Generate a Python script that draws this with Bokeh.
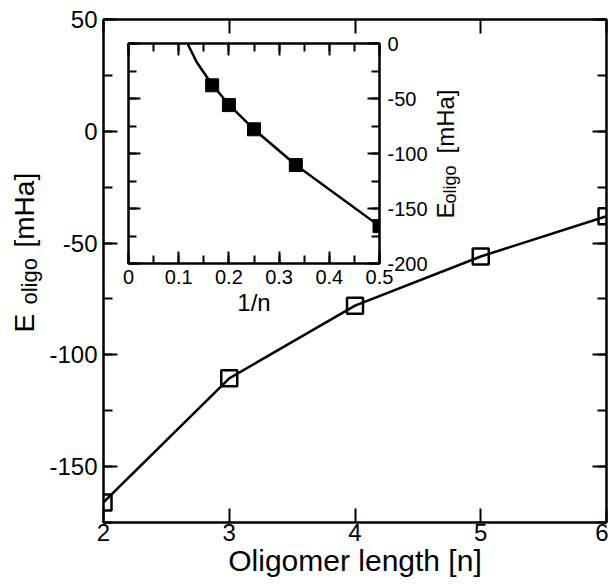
import numpy as np
from bokeh.plotting import figure
from bokeh.models import (LinearAxis, SingleIntervalTicker, CustomJSTickFormatter,
                          Label, Row, Range1d)
from bokeh.embed import file_html
from bokeh.resources import INLINE

# ---------------- data ----------------
n_values = [2, 3, 4, 5, 6]
e_oligo = [-166.0, -110.5, -78.0, -56.0, -38.0]          # mHa
inv_n = [1.0 / n for n in n_values]
# fitted curve of the inset
fit_inv_n = [0.1175, 0.136, 0.1667, 0.2, 0.25, 0.3333, 0.5]
fit_e = [0.0, -17.0, -37.5, -55.5, -78.0, -110.5, -166.0]

FONT = "Liberation Sans"
INT_FMT = CustomJSTickFormatter(code="return Math.round(tick).toString();")
DEC_FMT = CustomJSTickFormatter(code="return tick.toFixed(1).replace(/\\.0$/, '');")
BLANK_FMT = CustomJSTickFormatter(code="return '';")

# shared top / bottom borders (a Row aligns these across its children)
B_TOP, B_BOT = 19, 62
MAIN_W, MAIN_H = 608, 584
INS_FRAME_W, INS_FRAME_H = 251, 220
INS_B_LEFT, INS_B_RIGHT = 8, 60
INS_W = INS_B_LEFT + INS_FRAME_W + INS_B_RIGHT
INS_H = B_TOP + INS_FRAME_H + B_BOT
INS_PAGE_LEFT, INS_PAGE_TOP = 120, 24


def style_axis(ax, font_size, major_in, minor_in, standoff, show_labels=True, minor=True):
    ax.axis_line_color = None
    ax.major_tick_in = major_in
    ax.major_tick_out = 0
    ax.minor_tick_in = minor_in
    ax.minor_tick_out = 0
    ax.major_tick_line_color = "black"
    ax.major_tick_line_width = 2
    ax.minor_tick_line_color = "black" if minor else None
    ax.minor_tick_line_width = 2
    ax.major_label_text_font = FONT
    ax.major_label_text_color = "black"
    if show_labels:
        ax.major_label_text_font_size = font_size
        ax.major_label_standoff = standoff
    else:
        ax.formatter = BLANK_FMT
        ax.major_label_text_font_size = "1px"
        ax.major_label_standoff = 0


# ---------------- main plot ----------------
p = figure(width=MAIN_W, height=MAIN_H, x_range=(2, 6), y_range=(-175, 50),
           output_backend="svg", toolbar_location=None,
           min_border_left=103, min_border_right=2, min_border_top=B_TOP, min_border_bottom=B_BOT)
p.background_fill_color = "white"
p.border_fill_color = "white"
p.outline_line_color = "black"
p.outline_line_width = 2.5
p.xgrid.grid_line_color = None
p.ygrid.grid_line_color = None

xt = SingleIntervalTicker(interval=1, num_minor_ticks=0)
yt = SingleIntervalTicker(interval=50, num_minor_ticks=2)

xa = p.xaxis[0]
xa.ticker = xt
xa.formatter = INT_FMT
style_axis(xa, "24px", 14, 9, 1, minor=False)
xa.axis_label = "Oligomer length [n]"
xa.axis_label_text_font = FONT
xa.axis_label_text_font_size = "30px"
xa.axis_label_text_font_style = "normal"
xa.axis_label_text_color = "black"
xa.axis_label_standoff = 0

ya = p.yaxis[0]
ya.ticker = yt
ya.formatter = INT_FMT
style_axis(ya, "24px", 14, 9, 6)

ra = LinearAxis(ticker=yt)
style_axis(ra, "", 14, 9, 0, show_labels=False)
p.add_layout(ra, "right")
ta = LinearAxis(ticker=xt)
style_axis(ta, "", 14, 9, 0, show_labels=False, minor=False)
p.add_layout(ta, "above")

p.line(n_values, e_oligo, line_color="black", line_width=2.5)
p.scatter(n_values, e_oligo, marker="square", size=16, fill_color=None,
          line_color="black", line_width=2.5)

# ---------------- inset ----------------
ins = figure(width=INS_W, height=INS_H, x_range=(0, 0.5), y_range=(-200, 0),
             y_axis_location="right", output_backend="svg", toolbar_location=None,
             min_border_left=INS_B_LEFT, min_border_right=INS_B_RIGHT,
             min_border_top=B_TOP, min_border_bottom=B_BOT)
ins.background_fill_color = "white"
ins.border_fill_color = None
ins.outline_line_color = "black"
ins.outline_line_width = 2.5
ins.xgrid.grid_line_color = None
ins.ygrid.grid_line_color = None
ins.margin = (INS_PAGE_TOP, 0, 0, INS_PAGE_LEFT - MAIN_W)

ixt = SingleIntervalTicker(interval=0.1, num_minor_ticks=2)
iyt = SingleIntervalTicker(interval=50, num_minor_ticks=2)

ixa = ins.xaxis[0]
ixa.ticker = ixt
ixa.formatter = DEC_FMT
style_axis(ixa, "20px", 12, 8, 6)
ixa.axis_label = "1/n"
ixa.axis_label_text_font = FONT
ixa.axis_label_text_font_size = "24px"
ixa.axis_label_text_font_style = "normal"
ixa.axis_label_text_color = "black"
ixa.axis_label_standoff = 2

iya = ins.yaxis[0]
iya.ticker = iyt
iya.formatter = INT_FMT
style_axis(iya, "20px", 12, 8, 8)

ila = LinearAxis(ticker=iyt)
style_axis(ila, "", 12, 8, 0, show_labels=False)
ins.add_layout(ila, "left")
ita = LinearAxis(ticker=ixt)
style_axis(ita, "", 12, 8, 0, show_labels=False)
ins.add_layout(ita, "above")

ins.line(fit_inv_n, fit_e, line_color="black", line_width=2.5)
ins.scatter(inv_n, e_oligo, marker="square", size=13, fill_color="black",
            line_color="black", line_width=1)

# ---------------- transparent overlay holding the subscripted y titles ----------------
ov = figure(width=MAIN_W, height=MAIN_H, x_range=Range1d(0, 1), y_range=Range1d(0, 1),
            x_axis_location=None, y_axis_location=None, output_backend="svg",
            toolbar_location=None, min_border_left=0, min_border_right=0,
            min_border_top=B_TOP, min_border_bottom=B_BOT)
ov.background_fill_color = None
ov.border_fill_color = None
ov.outline_line_color = None
ov.xgrid.grid_line_color = None
ov.ygrid.grid_line_color = None
ov.margin = (0, 0, 0, -(INS_PAGE_LEFT + INS_W))

FRAME_BOTTOM = MAIN_H - B_BOT
titles = [
    # text, x (px from left), page y where the text starts, size
    ("E", 24, 332, "28px"), ("oligo", 29, 304, "22px"), ("[mHa]", 24, 247, "28px"),
    ("E", 445, 218, "24px"), ("oligo", 449, 203, "18px"), ("[mHa]", 445, 153, "24px"),
]
for txt, x, py, fs in titles:
    ov.add_layout(Label(x=x, y=FRAME_BOTTOM - py, x_units="screen", y_units="screen", text=txt,
                        angle=np.pi / 2, text_font=FONT, text_font_size=fs,
                        text_color="black", text_align="left", text_baseline="alphabetic"))

layout = Row(children=[p, ins, ov], spacing=0)

open("out.html", "w").write(file_html(layout, INLINE))
